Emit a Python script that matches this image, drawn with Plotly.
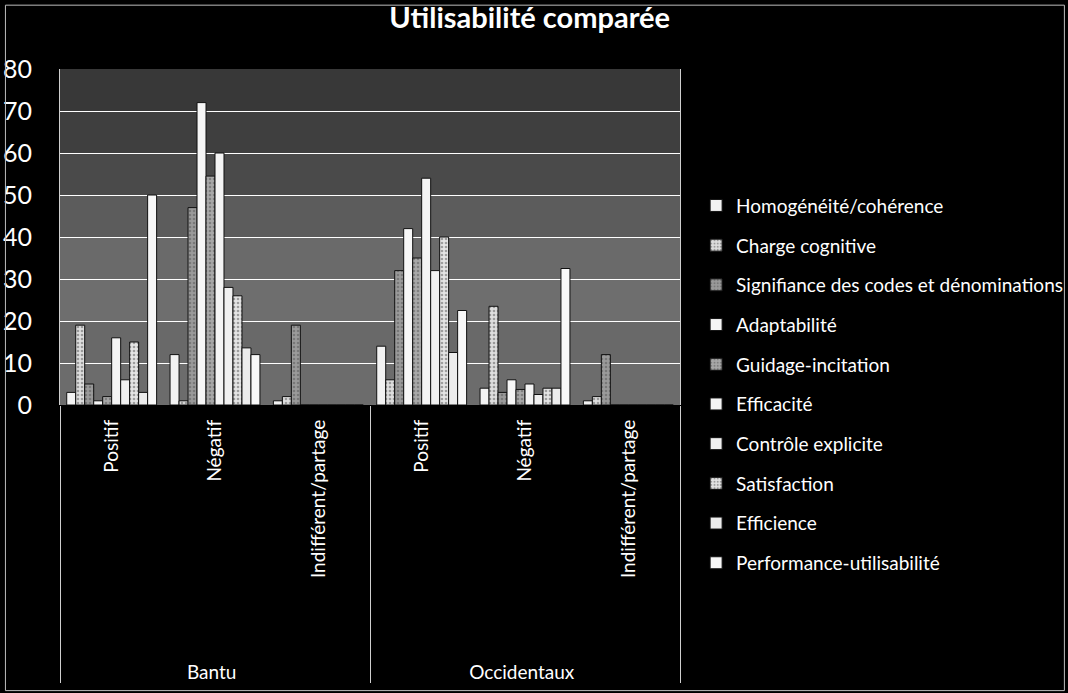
import plotly.graph_objects as go

# Category axis: two levels (population group / type of opinion)
groups = ["<br><br><br>Bantu"] * 3 + ["<br><br><br>Occidentaux"] * 3
opinions = ["Positif", "Négatif", "Indifférent/partage",
            "Positif", "Négatif", "Indifférent/partage"]

# One series per usability criterion, values in the category order above
homogeneite = [3, 12, 1, 14, 4, 1]
charge_cognitive = [19, 1, 2, 6, 23.5, 2]
signifiance = [5, 47, 19, 32, 3, 12]
adaptabilite = [1, 72, 0, 42, 6, 0]
guidage = [2, 54.5, 0, 35, 3.7, 0]
efficacite = [16, 60, 0, 54, 5, 0]
controle = [6, 28, 0, 32, 2.5, 0]
satisfaction = [15, 26, 0, 40, 4, 0]
efficience = [3, 13.6, 0, 12.5, 4, 0]
performance = [50, 12, 0, 22.5, 32.5, 0]

series_names = [
    "Homogénéité/cohérence",
    "Charge cognitive",
    "Signifiance des codes et dénominations",
    "Adaptabilité",
    "Guidage-incitation",
    "Efficacité",
    "Contrôle explicite",
    "Satisfaction",
    "Efficience",
    "Performance-utilisabilité",
]
series_values = [homogeneite, charge_cognitive, signifiance, adaptabilite, guidage,
                 efficacite, controle, satisfaction, efficience, performance]

# Monochrome fills: most bars pale, two criteria drawn with a grey dotted texture
fills = ["#f2f2f2", "#dedede", "#9a9a9a", "#f6f6f6", "#a8a8a8",
         "#f4f4f4", "#f0f0f0", "#e4e4e4", "#ececec", "#f8f8f8"]
patterns = ["", ".", ".", "", ".", "", "", ".", "", ""]

fig = go.Figure()
for name, vals, fill, pat in zip(series_names, series_values, fills, patterns):
    fig.add_trace(go.Bar(
        name=name,
        legendgroup=name,
        x=[groups, opinions],
        y=vals,
        marker=dict(
            color=fill,
            line=dict(color="#111111", width=1),
            pattern=dict(shape=pat, fgcolor="#555555", bgcolor=fill, size=4, solidity=0.35),
        ),
    ))

# Dark-to-mid grey vertical gradient behind the bars
bg_bands = [(0, 10, "#6c6c6c"), (10, 20, "#696969"), (20, 30, "#6e6e6e"),
            (30, 40, "#6a6a6a"), (40, 50, "#5c5c5c"), (50, 60, "#4a4a4a"),
            (60, 70, "#3f3f3f"), (70, 80, "#383838")]
for y0, y1, col in bg_bands:
    fig.add_shape(type="rect", xref="x domain", yref="y", x0=0, x1=1, y0=y0, y1=y1,
                  fillcolor=col, line=dict(width=0), layer="below")

# Outer frame of the chart
fig.add_shape(type="rect", xref="paper", yref="paper",
              x0=-0.088, x1=1.62, y0=-0.85, y1=1.19,
              line=dict(color="#bdbdbd", width=1))

fig.update_layout(
    width=1068,
    height=693,
    paper_bgcolor="#000000",
    plot_bgcolor="#666666",
    margin=dict(l=60, r=388, t=69, b=288, autoexpand=False),
    barmode="group",
    bargap=0.13,
    bargroupgap=0,
    font=dict(family="Lato", color="#ffffff"),
    title=dict(
        text="<b>Utilisabilité comparée</b>",
        x=0.496, xanchor="center",
        y=0.974, yanchor="middle",
        font=dict(family="Lato", size=29, color="#ffffff"),
    ),
    legend=dict(
        x=1.026, xanchor="left",
        y=0.65, yanchor="top",
        font=dict(family="Lato", size=19, color="#ffffff"),
        bgcolor="rgba(0,0,0,0)",
        itemwidth=30,
        tracegroupgap=12,
        traceorder="grouped",
        maxheight=650,
    ),
    xaxis=dict(
        type="multicategory",
        tickangle=-90,
        tickfont=dict(family="Lato", size=19, color="#ffffff"),
        showgrid=False,
        showdividers=True,
        dividercolor="#cfcfcf",
        dividerwidth=1,
        showline=False,
        ticks="",
        ticklabelstandoff=10,
        automargin=False,
    ),
    yaxis=dict(
        range=[0, 80],
        dtick=10,
        showgrid=True,
        gridcolor="#ffffff",
        gridwidth=1,
        zeroline=False,
        showline=True,
        linecolor="#cfcfcf",
        mirror=True,
        tickfont=dict(family="Lato", size=25, color="#ffffff"),
        ticklabelstandoff=22,
        ticks="",
        automargin=False,
    ),
)

fig.write_html("out.html")
